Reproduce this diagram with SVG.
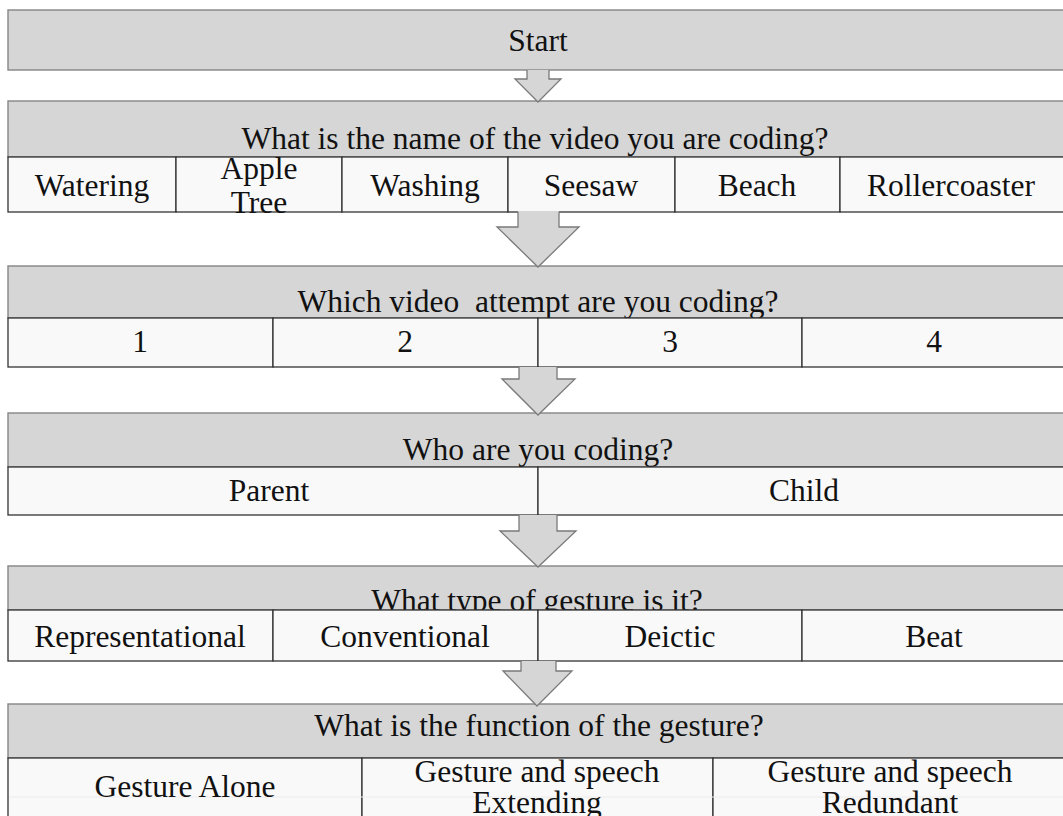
<svg xmlns="http://www.w3.org/2000/svg" width="1063" height="816" viewBox="0 0 1063 816">
  <style>
    .hdr { fill: #d6d6d6; stroke: #858585; stroke-width: 1.4; }
    .cell { fill: #f9f9f9; stroke: #333333; stroke-width: 1.3; }
    .t { font-family: "Liberation Serif", "Times New Roman", serif; font-size: 31.5px; fill: #111111; text-anchor: middle; }
    .arr-fill { fill: #d6d6d6; stroke: none; }
    .arr-line { fill: none; stroke: #7a7a7a; stroke-width: 1.3; stroke-linejoin: miter; }
  </style>
  <rect width="1063" height="816" fill="#ffffff"/>

  <!-- Start -->
  <g id="start">
    <rect class="hdr" x="8" y="10" width="1062" height="60"/>
    <text class="t" x="538" y="51">Start</text>
  </g>

  <!-- Video name -->
  <g id="video-name">
    <rect class="hdr" x="8" y="101" width="1062" height="56"/>
    <text class="t" x="535" y="149">What is the name of the video you are coding?</text>
    <rect class="cell" x="8" y="157" width="168" height="55"/>
    <rect class="cell" x="176" y="157" width="166" height="55"/>
    <rect class="cell" x="342" y="157" width="166" height="55"/>
    <rect class="cell" x="508" y="157" width="167" height="55"/>
    <rect class="cell" x="675" y="157" width="165" height="55"/>
    <rect class="cell" x="840" y="157" width="230" height="55"/>
    <text class="t" x="92" y="196">Watering</text>
    <text class="t" x="259" y="179">Apple</text>
    <text class="t" x="259" y="213">Tree</text>
    <text class="t" x="425" y="196">Washing</text>
    <text class="t" x="591" y="196">Seesaw</text>
    <text class="t" x="757" y="196">Beach</text>
    <text class="t" x="951" y="196">Rollercoaster</text>
  </g>

  <!-- Attempt -->
  <g id="attempt">
    <rect class="hdr" x="8" y="266" width="1062" height="52"/>
    <text class="t" x="538" y="312" xml:space="preserve">Which video  attempt are you coding?</text>
    <rect class="cell" x="8" y="318" width="265" height="49"/>
    <rect class="cell" x="273" y="318" width="265" height="49"/>
    <rect class="cell" x="538" y="318" width="264" height="49"/>
    <rect class="cell" x="802" y="318" width="268" height="49"/>
    <text class="t" x="140" y="352">1</text>
    <text class="t" x="405" y="352">2</text>
    <text class="t" x="670" y="352">3</text>
    <text class="t" x="934" y="352">4</text>
  </g>

  <!-- Who -->
  <g id="who">
    <rect class="hdr" x="8" y="413" width="1062" height="54"/>
    <text class="t" x="538" y="460">Who are you coding?</text>
    <rect class="cell" x="8" y="467" width="530" height="48"/>
    <rect class="cell" x="538" y="467" width="532" height="48"/>
    <text class="t" x="269" y="501">Parent</text>
    <text class="t" x="804" y="501">Child</text>
  </g>

  <!-- Gesture type -->
  <g id="gesture-type">
    <rect class="hdr" x="8" y="566" width="1062" height="44"/>
    <text class="t" x="537" y="611">What type of gesture is it?</text>
    <rect class="cell" x="8" y="610" width="265" height="51"/>
    <rect class="cell" x="273" y="610" width="265" height="51"/>
    <rect class="cell" x="538" y="610" width="264" height="51"/>
    <rect class="cell" x="802" y="610" width="268" height="51"/>
    <text class="t" x="140" y="647">Representational</text>
    <text class="t" x="405" y="647">Conventional</text>
    <text class="t" x="670" y="647">Deictic</text>
    <text class="t" x="934" y="647">Beat</text>
  </g>

  <!-- Gesture function -->
  <g id="gesture-function">
    <rect class="hdr" x="8" y="704" width="1062" height="54"/>
    <text class="t" x="539" y="736">What is the function of the gesture?</text>
    <rect class="cell" x="8" y="758" width="354" height="80"/>
    <rect class="cell" x="362" y="758" width="351" height="80"/>
    <rect class="cell" x="713" y="758" width="357" height="80"/>
    <line x1="9" y1="797" x2="1063" y2="797" stroke="#ececec" stroke-width="1"/>
    <text class="t" x="185" y="797">Gesture Alone</text>
    <text class="t" x="537" y="782">Gesture and speech</text>
    <text class="t" x="537" y="813">Extending</text>
    <text class="t" x="890" y="782">Gesture and speech</text>
    <text class="t" x="890" y="813">Redundant</text>
  </g>

  <!-- Connectors: block arrows between stages -->
  <g id="connectors">
    <polygon class="arr-fill" points="527,70 549,70 549,79 561,79 538,102 515,79 527,79"/>
    <polyline class="arr-line" points="527,70 527,79 515,79 538,102 561,79 549,79 549,70"/>

    <polygon class="arr-fill" points="518,211 559,211 559,227 579,227 538,267 497,227 518,227"/>
    <polyline class="arr-line" points="518,212 518,227 497,227 538,267 579,227 559,227 559,212"/>

    <polygon class="arr-fill" points="519,367 557,367 557,379 575,379 538,415 502,379 519,379"/>
    <polyline class="arr-line" points="519,367 519,379 502,379 538,415 575,379 557,379 557,367"/>

    <polygon class="arr-fill" points="519,515 557,515 557,531 576,531 538,567 500,531 519,531"/>
    <polyline class="arr-line" points="519,515 519,531 500,531 538,567 576,531 557,531 557,515"/>

    <polygon class="arr-fill" points="521,661 556,661 556,671 572,671 537,706 503,671 521,671"/>
    <polyline class="arr-line" points="521,661 521,671 503,671 537,706 572,671 556,671 556,661"/>
  </g>
</svg>
